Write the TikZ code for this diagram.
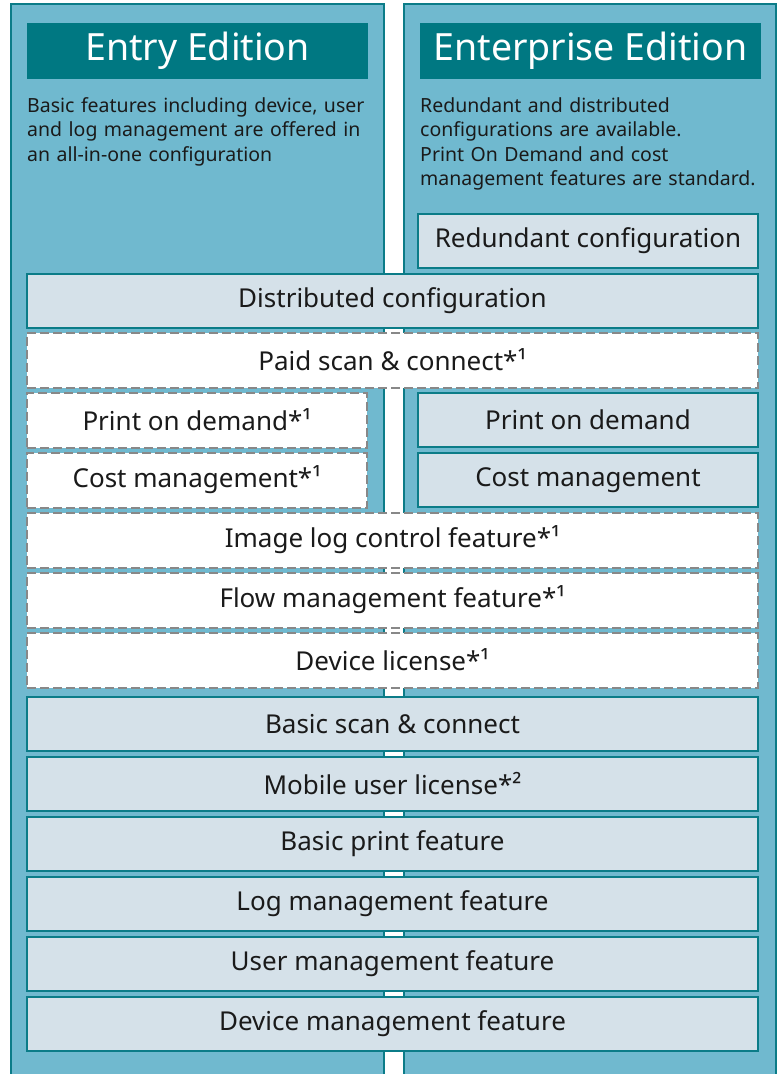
\documentclass[tikz,border=0pt]{standalone}
\usepackage{fontspec}
\setmainfont{Noto Sans}
\usetikzlibrary{positioning}
\definecolor{colfill}{HTML}{70B9CF}
\definecolor{colline}{HTML}{0B7C88}
\definecolor{headfill}{HTML}{007882}
\definecolor{featfill}{HTML}{D5E1E9}
\definecolor{dashgray}{HTML}{888888}
\definecolor{ink}{HTML}{1A1A1A}

\tikzset{
  edition/.style={fill=headfill, text=white, minimum height=56pt, minimum width=341pt,
    inner sep=0pt, font=\fontsize{37.5}{40}\selectfont},
  blurb/.style={anchor=north west, align=left, text width=355pt, inner sep=0pt,
    text=ink, font=\fontsize{19.5}{24.5}\selectfont},
  feature/.style={draw=colline, line width=1.8pt, fill=featfill, minimum height=54pt,
    inner sep=0pt, text=ink, font=\fontsize{26}{28}\selectfont},
  option/.style={draw=dashgray, line width=2pt, dash pattern=on 9pt off 4pt, fill=white,
    minimum height=55pt, inner sep=0pt, text=ink, font=\fontsize{26}{28}\selectfont},
  wide/.style={minimum width=731pt},
  half/.style={minimum width=340pt},
}

\begin{document}
\begin{tikzpicture}[x=1pt, y=-1pt]
\useasboundingbox (0,0) rectangle (779,1074);
% the two editions
\fill[colfill] (10,3) rectangle (385,1074);
\fill[colfill] (403,3) rectangle (777,1074);
\draw[colline, line width=2pt] (11,1074) |- (384,4) -- (384,1074);
\draw[colline, line width=2pt] (404,1074) |- (776,4) -- (776,1074);

\node[edition] (entry) at (197.5,51) {Entry Edition};
\node[edition] (enterprise) at (590.5,51) {Enterprise Edition};
\node[blurb] (entrytext) at (27,97) {Basic features including device, user\\and log management are offered in\\an all-in-one configuration};
\node[blurb] (enttext) at (420,97) {Redundant and distributed\\configurations are available.\\Print On Demand and cost\\management features are standard.};

% features
\node[feature, half] (redundant) at (588,241) {Redundant configuration};
\node[feature, wide] (distributed) at (392.5,301) {Distributed configuration};
\node[option, wide] (paidscan) at (392.5,360) {Paid scan \& connect*¹};
\node[option, half] (podleft) at (197,420) {Print on demand*¹};
\node[option, half] (costleft) at (197,480) {Cost management*¹};
\node[feature, half] (podright) at (588,420) {Print on demand};
\node[feature, half] (costright) at (588,480) {Cost management};
\node[option, wide] (imagelog) at (392.5,540) {Image log control feature*¹};
\node[option, wide] (flow) at (392.5,600) {Flow management feature*¹};
\node[option, wide] (devlicense) at (392.5,660) {Device license*¹};
\node[feature, wide] (basicscan) at (392.5,724) {Basic scan \& connect};
\node[feature, wide] (mobile) at (392.5,784) {Mobile user license*²};
\node[feature, wide] (basicprint) at (392.5,844) {Basic print feature};
\node[feature, wide] (logmgmt) at (392.5,904) {Log management feature};
\node[feature, wide] (usermgmt) at (392.5,964) {User management feature};
\node[feature, wide] (devmgmt) at (392.5,1024) {Device management feature};
\end{tikzpicture}
\end{document}
